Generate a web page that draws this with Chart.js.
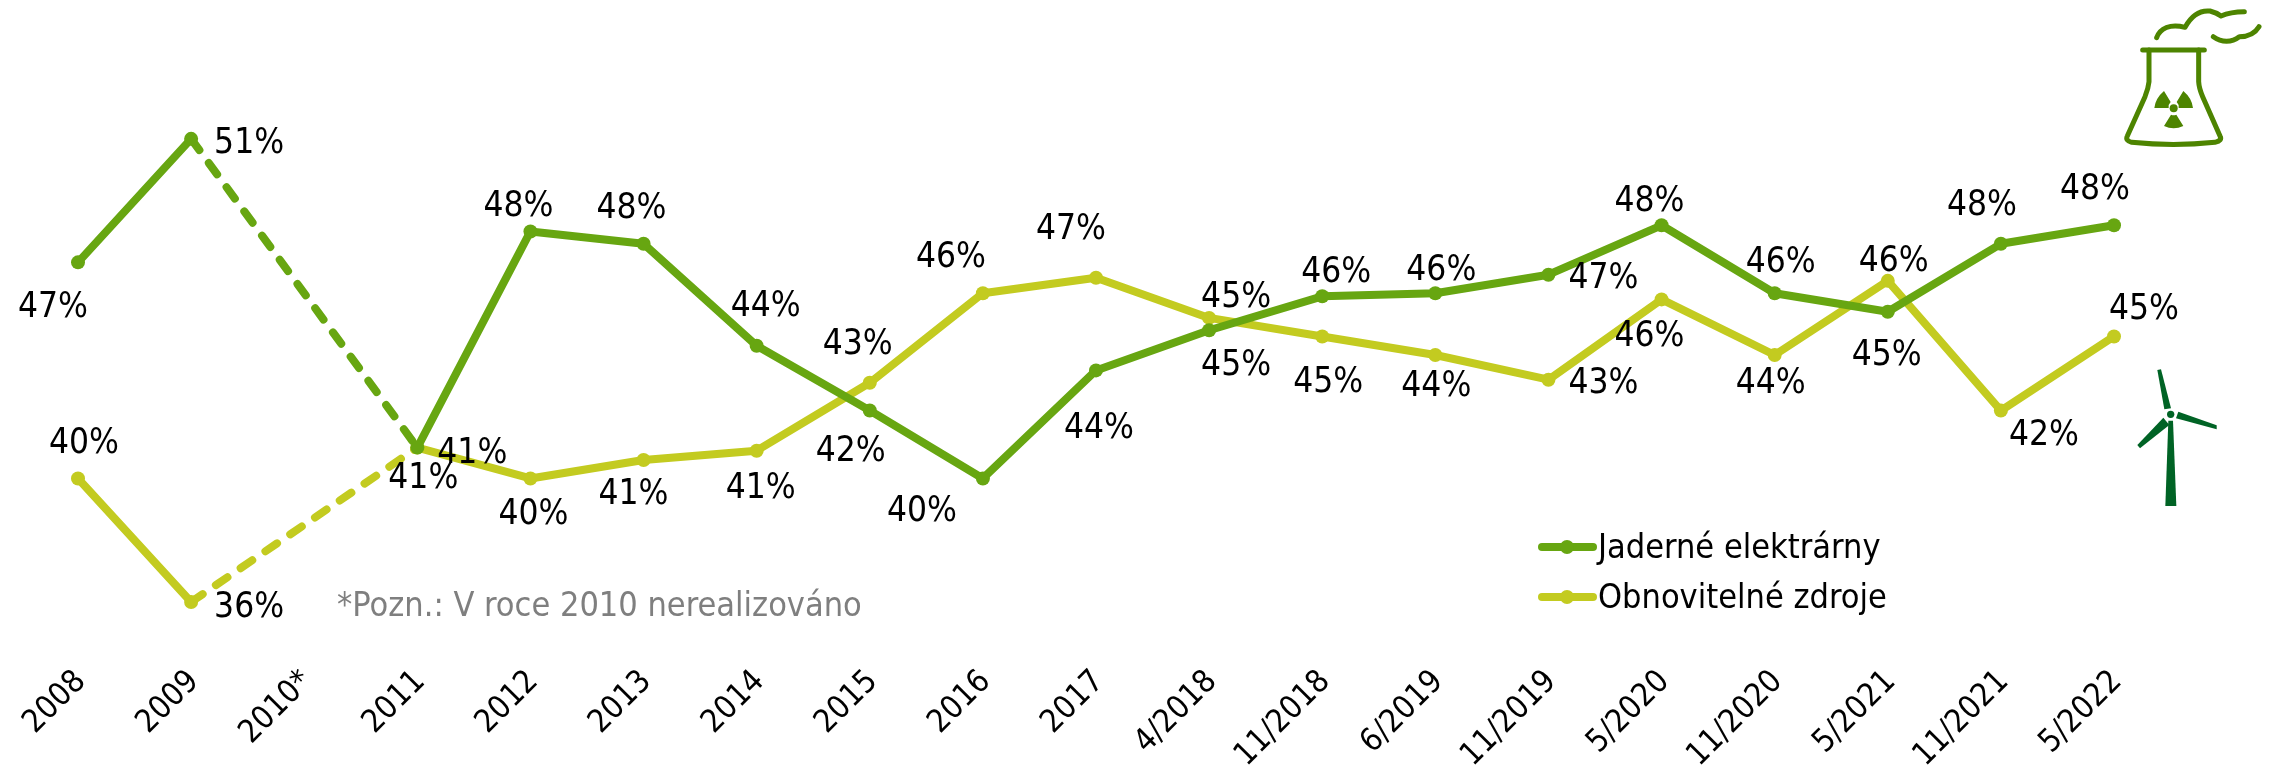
<!DOCTYPE html>
<html lang="cs">
<head>
<meta charset="utf-8">
<title>Jaderné elektrárny a obnovitelné zdroje</title>
<script src="https://cdn.jsdelivr.net/npm/chart.js@4"></script>
<style>
    body { margin: 0; background: #fff; }
    #wrap { position: relative; width: 2269px; height: 769px; }
    #chart { position: absolute; left: 0; top: 0; }
    svg { position: absolute; }
</style>
</head>
<body>
<div id="wrap">
    <canvas id="chart" width="2269" height="769"></canvas>
    <svg style="left:2050px;top:0" width="219" height="170" viewBox="0 0 657 510">
        <g fill="none" stroke="#4d8400" stroke-width="15" stroke-linecap="round" stroke-linejoin="round">
            <path d="M278 150 L463 150"/>
            <path d="M297 150 L297 245 Q295 265 285 290 L232 408 Q225 422 245 427 Q370 440 495 427 Q518 422 510 408 L458 290 Q447 265 446 245 L446 150"/>
            <path d="M320 113 C330 85 360 70 405 82 C425 45 450 30 480 33 Q500 38 513 48 C535 38 560 35 583 35"/>
            <path d="M490 110 C515 128 545 128 568 110 C595 110 615 100 627 80"/>
        </g>
        <g fill="#4d8400">
            <circle cx="371" cy="325" r="12"/>
            <path d="M313 324 Q316 295 342 273 L362 306 Q355 312 356 324 Z"/>
            <path d="M429 324 Q426 295 400 273 L380 306 Q387 312 386 324 Z"/>
            <path d="M342 378 L363 344 Q371 347 379 344 L400 378 Q371 392 342 378 Z"/>
        </g>
    </svg>
    <svg style="left:2100px;top:350px" width="130" height="170" viewBox="0 0 390 510">
        <g fill="#006325">
            <circle cx="212" cy="193" r="11"/>
            <path d="M205 212 L219 212 L229 468 L196 468 Z"/>
            <path d="M172 60 L183 58 L213 175 L193 178 Z"/>
            <path d="M235 185 L350 226 L350 238 L228 205 Z"/>
            <path d="M190 203 L112 285 L120 295 L208 225 Z"/>
        </g>
    </svg>
</div>
<script>
const FONT = "'DejaVu Sans Condensed', 'DejaVu Sans', sans-serif";

const categories = ["2008", "2009", "2010*", "2011", "2012", "2013", "2014", "2015", "2016", "2017",
    "4/2018", "11/2018", "6/2019", "11/2019", "5/2020", "11/2020", "5/2021", "11/2021", "5/2022"];

const jaderne = [47, 51, null, 41, 48, 47.6, 44.3, 42.2, 40, 43.5, 44.8, 45.9, 46, 46.6, 48.2, 46, 45.4, 47.6, 48.2];
const obnovitelne = [40, 36, null, 41, 40, 40.6, 40.9, 43.1, 46, 46.5, 45.2, 44.6, 44, 43.2, 45.8, 44, 46.4, 42.2, 44.6];

// where each value label sits relative to its point
const jaderneOffsets = [[-25, 43], [58, 2], null, [6, 28], [-12, -28], [-12, -38], [9, -42], [-19, 38], [-61, 30], [3, 55],
    [27, 33], [14, -26], [6, -25], [55, 1], [-12, -26], [6, -33], [-1, 41], [-19, -41], [-19, -38]];
const obnovitelneOffsets = [[6, -38], [58, 3], null, [55, 3], [3, 33], [-10, 32], [4, 35], [-12, -41], [-32, -38], [-25, -51],
    [27, -23], [6, 43], [1, 29], [55, 1], [-12, 35], [-4, 26], [6, -22], [43, 22], [30, -30]];

const poznamka = "*Pozn.: V roce 2010 nerealizováno";

// dashed only across the missing year
const dashGap = ctx => ctx.p0.skip || ctx.p1.skip ? [14, 16] : undefined;

function serie(label, data, color, offsets) {
    return {
        label, data, offsets,
        borderColor: color,
        backgroundColor: color,
        borderWidth: 8,
        borderCapStyle: "round",
        borderJoinStyle: "round",
        pointRadius: 7,
        pointBorderWidth: 0,
        tension: 0,
        spanGaps: true,
        segment: { borderDash: dashGap }
    };
}

const popisky = {
    id: "popisky",
    afterDatasetsDraw(chart) {
        const c = chart.ctx;
        c.save();
        c.textAlign = "center";
        c.textBaseline = "middle";
        c.fillStyle = "#000";
        c.font = "35px " + FONT;
        chart.data.datasets.forEach((ds, i) => {
            chart.getDatasetMeta(i).data.forEach((pt, j) => {
                if (ds.data[j] === null) return;
                const [dx, dy] = ds.offsets[j];
                c.fillText(Math.round(ds.data[j]) + "%", pt.x + dx, pt.y + dy + 3);
            });
        });

        // legend
        c.textAlign = "left";
        c.font = "34px " + FONT;
        chart.data.datasets.forEach((ds, i) => {
            const y = 547 + i * 50;
            c.strokeStyle = ds.borderColor;
            c.fillStyle = ds.borderColor;
            c.lineWidth = 8;
            c.lineCap = "round";
            c.beginPath();
            c.moveTo(1542, y);
            c.lineTo(1593, y);
            c.stroke();
            c.beginPath();
            c.arc(1567, y, 7, 0, Math.PI * 2);
            c.fill();
            c.fillStyle = "#000";
            c.fillText(ds.label, 1598, y + 2);
        });

        c.fillStyle = "#7f7f7f";
        c.fillText(poznamka, 337, 607);
        c.restore();
    }
};

new Chart(document.getElementById("chart").getContext("2d"), {
    type: "line",
    data: {
        labels: categories,
        datasets: [
            serie("Jaderné elektrárny", jaderne, "#67a611", jaderneOffsets),
            serie("Obnovitelné zdroje", obnovitelne, "#c3cb20", obnovitelneOffsets)
        ]
    },
    options: {
        responsive: false,
        animation: false,
        layout: { padding: { left: 78, right: 155, top: 0, bottom: 0 } },
        plugins: { legend: { display: false }, tooltip: { enabled: false } },
        scales: {
            x: {
                offset: false,
                afterFit: s => { s.height = 119; },
                grid: { display: false },
                border: { display: false },
                ticks: {
                    autoSkip: false,
                    minRotation: 45,
                    maxRotation: 45,
                    padding: 5,
                    labelOffset: 3,
                    color: "#000",
                    font: { family: FONT, size: 32 }
                }
            },
            y: { display: false, min: 34.445, max: 55.27 }
        }
    },
    plugins: [popisky]
});
</script>
</body>
</html>
